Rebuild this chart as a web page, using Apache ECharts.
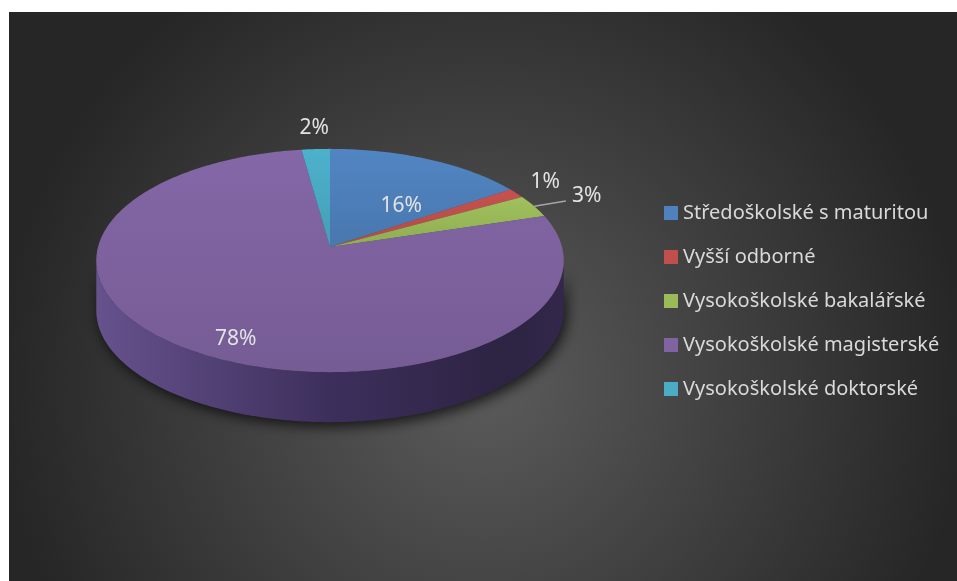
<!DOCTYPE html>
<html>
<head>
<meta charset="utf-8">
<script src="https://cdn.jsdelivr.net/npm/echarts@6/dist/echarts.min.js"></script>
<style>
  html, body { margin: 0; padding: 0; background: #ffffff; }
  #main { position: absolute; left: 9px; top: 12px; width: 948px; height: 569px; }
</style>
</head>
<body>
<div id="main"></div>
<script>
// data (labels are rounded percentages)
const categories = [
  "Středoškolské s maturitou",
  "Vyšší odborné",
  "Vysokoškolské bakalářské",
  "Vysokoškolské magisterské",
  "Vysokoškolské doktorské",
];
const shares = [15.6, 1.4, 3.3, 77.5, 2.2];
const colors = ["#4f81bd", "#c0504d", "#9bbb59", "#8064a2", "#4bacc6"];

// pie geometry (chart pixels) - a tilted disc drawn with a little perspective
const CX = 321, CY = 235, RX = 232, RY = 110, PERSP = 0.121, DEPTH = 50;
const FONT = "'Noto Sans', sans-serif";
const LABEL_SIZE = 21;

const total = shares.reduce((a, b) => a + b, 0);
const starts = [];
let acc = 0;
shares.forEach((v) => {
  starts.push((acc / total) * Math.PI * 2);
  acc += v;
});

// multiply a hex colour's channels (f < 1 darkens)
function shade(hex, fr, fg, fb) {
  const n = parseInt(hex.slice(1), 16);
  const ch = [(n >> 16) & 255, (n >> 8) & 255, n & 255];
  const f = [fr, fg === undefined ? fr : fg, fb === undefined ? fr : fb];
  return "rgb(" + ch.map((c, i) => Math.min(255, Math.round(c * f[i]))).join(",") + ")";
}

// angle a clockwise from 12 o'clock, k = fraction of radius
function proj(a, k, dy) {
  const s = Math.sin(a) * k, c = Math.cos(a) * k;
  const f = 1 / (1 + PERSP * c);
  return [CX + RX * s * f, CY - RY * c * f + (dy || 0)];
}

function arc(a0, a1, k, dy) {
  const n = Math.max(2, Math.ceil(Math.abs(a1 - a0) / (Math.PI / 180)));
  const pts = [];
  for (let i = 0; i <= n; i++) pts.push(proj(a0 + ((a1 - a0) * i) / n, k, dy));
  return pts;
}

// silhouette of the disc side
const A_LEFT = Math.acos(-PERSP);
const A_RIGHT = Math.PI * 2 - A_LEFT;

const ctx = document.createElement("canvas").getContext("2d");
function textWidth(t) {
  ctx.font = LABEL_SIZE + "px " + FONT;
  return ctx.measureText(t).width;
}

function layoutLabels() {
  const out = [];
  let prev = null;
  shares.forEach((v, i) => {
    const a0 = starts[i];
    const a1 = a0 + (v / total) * Math.PI * 2;
    const mid = (a0 + a1) / 2;
    const text = Math.round((v / total) * 100) + "%";
    if (v / total >= 0.1) {
      const p = proj(mid, 0.7);
      out.push({ text, x: p[0], y: p[1] + 22, align: "center", vAlign: "middle" });
      return;
    }
    const s = Math.sin(mid), c = Math.cos(mid);
    const side = Math.abs(s) > 0.3;
    const p = side ? proj(mid, 1.08, 3) : proj(mid, 1.12);
    const align = s > 0.3 ? "left" : s < -0.3 ? "right" : "center";
    const vAlign = c > 0.3 ? "bottom" : c < -0.3 ? "top" : "middle";
    const w = textWidth(text), h = LABEL_SIZE;
    const x0 = align === "left" ? p[0] : align === "right" ? p[0] - w : p[0] - w / 2;
    const y0 = vAlign === "bottom" ? p[1] - h : vAlign === "top" ? p[1] : p[1] - h / 2;
    const lab = { text, x: p[0], y: p[1], align, vAlign, box: [x0, y0, x0 + w, y0 + h] };
    if (prev && align === "left" &&
        lab.box[0] < prev.box[2] && lab.box[2] > prev.box[0] &&
        lab.box[1] < prev.box[3] && lab.box[3] > prev.box[1]) {
      const shift = prev.box[2] + 12 - lab.box[0];
      lab.x += shift;
      lab.box[0] += shift;
      lab.box[2] += shift;
      lab.line = [proj(mid, 1), [lab.x - 6, lab.box[3] - 5]];
    }
    prev = lab;
    out.push(lab);
  });
  return out;
}
const labels = layoutLabels();

function renderSlice(params, api) {
  const i = params.seriesIndex;
  const v = api.value(0);
  const a0 = starts[i];
  const a1 = a0 + (v / total) * Math.PI * 2;
  const color = colors[i];
  const children = [];

  const lo = Math.max(a0, A_LEFT), hi = Math.min(a1, A_RIGHT);
  if (hi > lo) {
    const pts = arc(lo, hi, 1, 0).concat(arc(hi, lo, 1, DEPTH));
    children.push({
      type: "polygon",
      shape: { points: pts },
      style: {
        fill: new echarts.graphic.LinearGradient(0, 0, 1, 0, [
          { offset: 0, color: shade(color, 0.8, 0.82, 0.87) },
          { offset: 0.5, color: shade(color, 0.48, 0.47, 0.57) },
          { offset: 0.88, color: shade(color, 0.35, 0.35, 0.41) },
          { offset: 1, color: shade(color, 0.4, 0.4, 0.46) },
        ]),
        shadowBlur: 14,
        shadowColor: "rgba(0,0,0,0.75)",
        shadowOffsetX: 3,
        shadowOffsetY: 4,
      },
    });
  }

  children.push({
    type: "polygon",
    shape: { points: [[CX, CY]].concat(arc(a0, a1, 1, 0)) },
    style: {
      fill: new echarts.graphic.LinearGradient(0, 0, 0, 1, [
        { offset: 0, color: shade(color, 1.03) },
        { offset: 1, color: shade(color, 0.92) },
      ]),
    },
  });

  const lab = labels[i];
  if (lab.line) {
    children.push({
      type: "polyline",
      shape: { points: lab.line },
      style: { stroke: "#a6a6a6", lineWidth: 1.5, fill: null },
    });
  }
  children.push({
    type: "text",
    z2: 10,
    style: {
      text: lab.text,
      x: lab.x,
      y: lab.y,
      fill: "#e3e3e3",
      fontSize: LABEL_SIZE,
      fontFamily: FONT,
      align: lab.align,
      verticalAlign: lab.vAlign,
    },
  });

  return { type: "group", children };
}

const chart = echarts.init(document.getElementById("main"));
chart.setOption({
  animation: false,
  backgroundColor: new echarts.graphic.RadialGradient(0.5, 0.65, 0.85, [
    { offset: 0, color: "#5b5b5b" },
    { offset: 1, color: "#262626" },
  ]),
  color: colors,
  legend: {
    orient: "vertical",
    left: 650,
    top: 186,
    itemWidth: 14,
    itemHeight: 14,
    itemGap: 24,
    icon: "rect",
    selectedMode: false,
    data: categories,
    textStyle: { color: "#d9d9d9", fontSize: 20, fontFamily: FONT, lineHeight: 20 },
  },
  series: categories.map((name, i) => ({
    name,
    type: "custom",
    coordinateSystem: "none",
    itemStyle: { color: colors[i] },
    renderItem: renderSlice,
    data: [[shares[i]]],
  })),
});
</script>
</body>
</html>
